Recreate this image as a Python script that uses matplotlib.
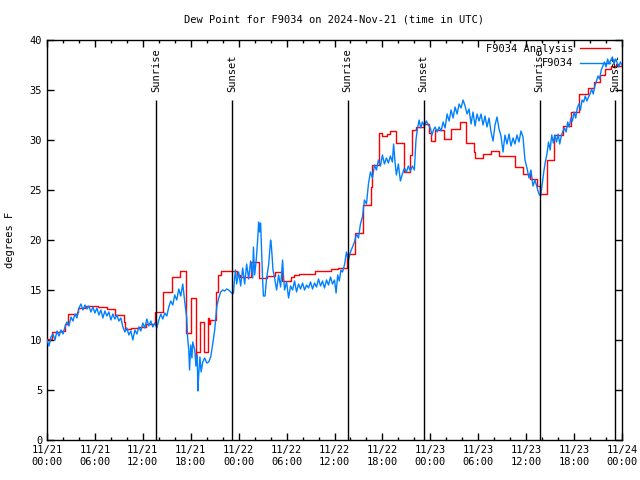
import matplotlib
matplotlib.use("Agg")
import matplotlib.pyplot as plt
from matplotlib.ticker import MultipleLocator

plt.rcParams['font.family'] = ['DejaVu Sans Mono']

title = "Dew Point for F9034 on 2024-Nov-21 (time in UTC)"
ylabel = "degrees F"
analysis_label = "F9034 Analysis"
obs_label = "F9034"

x_tick_hours = [0, 6, 12, 18, 24, 30, 36, 42, 48, 54, 60, 66, 72]
x_tick_labels = ["11/21\n00:00", "11/21\n06:00", "11/21\n12:00", "11/21\n18:00",
                 "11/22\n00:00", "11/22\n06:00", "11/22\n12:00", "11/22\n18:00",
                 "11/23\n00:00", "11/23\n06:00", "11/23\n12:00", "11/23\n18:00",
                 "11/24\n00:00"]

sun_hours = [13.65, 23.22, 37.63, 47.16, 61.68, 71.18]
sun_labels = ["Sunrise", "Sunset", "Sunrise", "Sunset", "Sunrise", "Sunset"]

# Analysis (step) series: hours since 11/21 00:00 UTC, value from that time on
red_hours = [0, 0.6, 1.6, 2.3, 2.6, 3.7, 3.9, 4.7, 6.4, 7.5, 8.5, 9.6, 9.8, 10.5,
             11.4, 12.4, 13.5, 14.5, 15.6, 16.7, 17.4, 18.0, 18.6, 18.7, 19.1, 19.6,
             20.1, 20.3, 20.4, 21.2, 21.4, 21.8, 23.8, 24.2, 25.6, 26.5, 27.5, 28.6,
             29.4, 30.5, 30.9, 31.5, 33.6, 35.5, 36.5, 37.6, 38.6, 39.6, 40.6, 40.7,
             41.6, 42.0, 42.6, 43.0, 43.7, 44.7, 45.4, 45.7, 46.2, 47.2, 47.8, 48.1,
             48.6, 49.7, 50.6, 51.7, 52.5, 53.5, 53.6, 54.6, 55.6, 56.6, 58.6, 59.6,
             60.5, 61.4, 61.7, 62.6, 63.5, 64.6, 65.6, 66.6, 67.7, 68.5, 69.2, 69.9,
             70.6, 71.2, 71.5, 72.0]
red_values = [10.1, 10.8, 10.9, 11.6, 12.6, 12.8, 13.2, 13.4, 13.3, 13.1, 12.5, 11.8, 11.1, 11.2,
              11.3, 11.6, 12.8, 14.8, 16.3, 16.9, 10.7, 14.2, 7.8, 8.8, 11.8, 8.8,
              12.2, 11.6, 12.0, 14.8, 16.5, 16.9, 16.5, 16.3, 17.8, 16.2, 16.4, 16.8,
              15.9, 16.3, 16.5, 16.6, 16.9, 17.1, 17.2, 18.6, 20.7, 23.5, 25.3, 27.5,
              30.7, 30.4, 30.6, 30.9, 29.7, 26.8, 28.5, 31.0, 31.3, 31.6, 30.7, 29.9,
              31.0, 30.1, 31.1, 31.8, 29.7, 28.8, 28.2, 28.6, 28.9, 28.4, 27.3, 26.6,
              26.1, 25.4, 24.6, 28.0, 30.5, 31.4, 32.8, 34.6, 35.2, 35.8, 36.5, 37.1,
              37.4, 37.6, 37.4, 37.4]

# Observations
obs_hours = [0.0, 0.25, 0.5, 0.75, 1.0, 1.25, 1.5, 1.75, 2.0, 2.25, 2.5, 2.75, 3.0, 3.25, 3.5, 3.75,
             4.0, 4.25, 4.5, 4.75, 5.0, 5.25, 5.5, 5.75, 6.0, 6.25, 6.5, 6.75, 7.0, 7.25, 7.5, 7.75,
             8.0, 8.25, 8.5, 8.75, 9.0, 9.25, 9.5, 9.75, 10.0, 10.25, 10.5, 10.75, 11.0, 11.25,
             11.5, 11.75, 12.0, 12.25, 12.5, 12.75, 13.0, 13.25, 13.5,
             13.75, 14.0, 14.25, 14.5, 14.75, 15.0, 15.25, 15.5, 15.75, 16.0, 16.25, 16.5, 16.75,
             17.0, 17.25, 17.5, 17.6, 17.75, 17.85, 18.0, 18.15, 18.25, 18.5, 18.65, 18.8, 18.9,
             19.0, 19.15, 19.3, 19.5, 19.75, 20.0, 20.25, 20.5, 20.75, 21.0, 21.25, 21.5, 21.75,
             22.0, 22.25, 22.5, 22.75, 23.0, 23.25,
             23.35, 23.5, 23.6, 23.75, 24.0, 24.25, 24.5, 24.75, 25.0, 25.25, 25.5, 25.75, 25.85,
             26.0, 26.2, 26.4, 26.5, 26.6, 26.75, 26.9, 27.0, 27.1, 27.3, 27.5, 27.75, 27.9, 28.0,
             28.1, 28.3, 28.5, 28.75, 29.0, 29.25, 29.5, 29.6, 29.75, 30.0, 30.25, 30.5, 30.75,
             31.0, 31.25, 31.5, 31.75, 32.0, 32.25, 32.5, 32.75, 33.0, 33.25, 33.5, 33.75, 34.0,
             34.25, 34.5, 34.75, 35.0, 35.25, 35.5, 35.75, 36.0, 36.2, 36.4, 36.6, 36.8, 37.0,
             37.25, 37.5,
             37.75, 38.0, 38.25, 38.5, 38.75, 39.0, 39.25, 39.5, 39.75, 40.0, 40.25, 40.5, 40.75,
             41.0, 41.25, 41.5, 41.75, 42.0, 42.25, 42.5, 42.75, 43.0, 43.25, 43.4, 43.6, 43.75,
             44.0, 44.25, 44.5, 44.75, 45.0, 45.25, 45.5, 45.75, 46.0, 46.2, 46.4, 46.6, 46.8,
             47.0, 47.25, 47.5,
             47.75, 48.0, 48.2, 48.4, 48.6, 48.85, 49.1, 49.35, 49.6, 49.85, 50.1, 50.35, 50.6,
             50.85, 51.1, 51.35, 51.6, 51.85, 52.1, 52.35, 52.6, 52.85, 53.1, 53.35, 53.6, 53.85,
             54.1, 54.35, 54.6, 54.85, 55.1, 55.35, 55.6, 55.85, 56.1, 56.35, 56.6, 56.85, 57.1,
             57.35, 57.6, 57.85, 58.1, 58.35, 58.6, 58.85, 59.1, 59.35, 59.6, 59.85, 60.1, 60.35,
             60.6, 60.85, 61.1, 61.35, 61.6, 61.8,
             62.0, 62.2, 62.4, 62.6, 62.8, 63.0, 63.2, 63.4, 63.6, 63.8, 64.0, 64.2, 64.4, 64.6,
             64.8, 65.0, 65.2, 65.4, 65.6, 65.8, 66.0, 66.2, 66.4, 66.6, 66.8, 67.0, 67.2, 67.4,
             67.6, 67.8, 68.0, 68.2, 68.4, 68.6, 68.8, 69.0, 69.2, 69.4, 69.6, 69.8, 70.0, 70.2,
             70.4, 70.6, 70.8, 71.0, 71.2, 71.4, 71.6, 71.8, 72.0]
obs_values = [10.0, 9.4, 10.3, 10.6, 10.0, 10.9, 10.4, 11.0, 10.6, 11.3, 11.8, 11.4, 12.3, 11.9, 12.6, 12.2,
              13.2, 13.6, 13.0, 13.5, 13.1, 13.4, 12.8, 13.3, 12.7, 13.2, 12.5, 13.0, 12.2, 12.9, 12.4, 12.8,
              12.0, 12.6, 12.1, 12.5, 11.9, 12.2, 11.3, 10.8, 11.2, 10.5, 10.9, 10.0, 11.0, 10.6,
              11.3, 10.9, 11.7, 11.2, 12.1, 11.4, 11.9, 11.3, 11.7,
              11.2, 12.0, 12.6, 12.1, 12.7, 12.4, 13.3, 13.9, 13.5, 14.5, 14.0, 15.1, 14.4,
              15.6, 13.8, 12.2, 10.3, 9.0, 7.0, 9.5, 8.2, 9.8, 9.0, 7.4, 8.5, 4.9,
              6.6, 8.3, 6.8, 7.8, 8.2, 7.7, 7.8, 8.3, 9.6, 11.0, 13.3, 14.2, 14.8,
              15.0, 14.9, 15.1, 15.0, 14.8, 14.6,
              14.7, 16.3, 17.0, 15.6, 16.8, 15.4, 17.2, 15.6, 17.6, 16.1, 17.9, 16.2, 19.3,
              16.5, 18.0, 20.3, 21.8, 20.8, 21.7, 18.2, 16.0, 14.4, 14.4, 16.2, 17.5, 19.0, 20.0,
              19.4, 17.0, 16.2, 15.0, 16.5, 15.3, 18.0, 16.5, 15.0, 15.8, 14.2, 15.4, 15.0,
              15.9, 14.8, 15.6, 15.1, 15.7, 15.0, 15.5, 15.2, 15.8, 15.1, 15.7, 15.3, 16.1,
              15.4, 15.9, 15.2, 16.0, 15.5, 16.3, 15.6, 16.0, 14.7, 16.5, 15.9, 17.0, 16.8,
              17.5, 18.8,
              18.0, 18.8, 19.3, 19.8, 20.6, 20.2, 21.6, 22.3, 24.0, 23.6, 25.6, 26.8, 26.2,
              27.5, 27.0, 28.0, 27.4, 28.5, 27.6, 28.2, 27.7, 28.4, 27.8, 29.6, 27.6, 26.5,
              27.6, 25.9, 26.6, 27.2, 26.8, 27.4, 26.9, 27.4, 27.0, 30.0, 31.2, 32.0, 31.2,
              31.8, 31.4, 31.9,
              31.5, 31.2, 30.5, 31.0, 31.3, 30.8, 31.3, 30.9, 31.8, 31.2, 32.6, 31.9, 33.0,
              32.2, 33.3, 32.6, 33.6, 33.2, 34.0, 33.4, 32.6, 33.1, 31.6, 32.8, 31.4, 32.6,
              31.9, 32.6, 31.5, 32.4, 31.3, 32.2, 30.8, 29.9, 31.5, 32.3, 31.1, 30.4, 28.8,
              30.5, 29.6, 30.6, 29.4, 30.2, 29.6, 30.5, 29.8, 30.9, 30.3, 28.0, 27.2, 26.2,
              27.0, 25.4, 26.0, 25.3, 24.6, 24.4,
              25.5, 26.8, 27.8, 28.6, 29.8, 29.0, 30.5, 29.7, 30.5, 29.8, 30.6, 29.6, 30.4, 30.9,
              31.2, 30.8, 31.8, 31.3, 32.2, 31.9, 32.8, 32.2, 33.2, 33.6, 33.0, 34.0, 33.8, 34.4,
              33.9, 34.3, 34.6, 35.1, 34.6, 35.4, 35.9, 36.4, 36.1, 37.0, 37.4, 37.8, 37.3, 38.1,
              37.6, 38.0, 38.3, 37.6, 38.1, 37.7, 37.3, 37.8, 37.5]

FS = 7.5
fig = plt.figure(figsize=(6.4, 4.8), dpi=100)
ax = fig.add_axes([47/640, 40/480, 575/640, 400/480])

ax.step(red_hours, red_values, where='post', color='#ff0000', lw=1.0, label=analysis_label, zorder=3)
ax.plot(obs_hours, obs_values, color='#0080ff', lw=1.0, label=obs_label, zorder=4)

for h, lab in zip(sun_hours, sun_labels):
    ax.vlines(h, 0, 34, color='black', lw=1.0, zorder=5)
    ax.text(h, 34.8, lab, rotation=90, ha='center', va='bottom', fontsize=FS)

ax.set_xlim(0, 72)
ax.set_ylim(0, 40)
ax.set_xticks(x_tick_hours)
ax.set_xticklabels(x_tick_labels, fontsize=FS, linespacing=1.3)
ax.xaxis.set_minor_locator(MultipleLocator(2))
ax.yaxis.set_major_locator(MultipleLocator(5))
ax.tick_params(axis='y', labelsize=FS)
ax.tick_params(which='both', direction='in', top=True, right=True, width=1.0)
ax.tick_params(which='major', length=5)
ax.tick_params(which='minor', length=2.5)
for s in ax.spines.values():
    s.set_linewidth(1.0)

fig.text(334/640, 1 - 19/480, title, ha='center', va='center', fontsize=FS)
fig.text(10/640, 0.5, ylabel, rotation=90, ha='center', va='center', fontsize=FS)

ax.legend(loc='upper right', bbox_to_anchor=(610/640, 1 - 44/480),
          bbox_transform=fig.transFigure, markerfirst=False, frameon=False,
          fontsize=FS, handlelength=2.9, handletextpad=0.6, labelspacing=0.42,
          borderpad=0, borderaxespad=0)

fig.savefig("out.png", dpi=100)
